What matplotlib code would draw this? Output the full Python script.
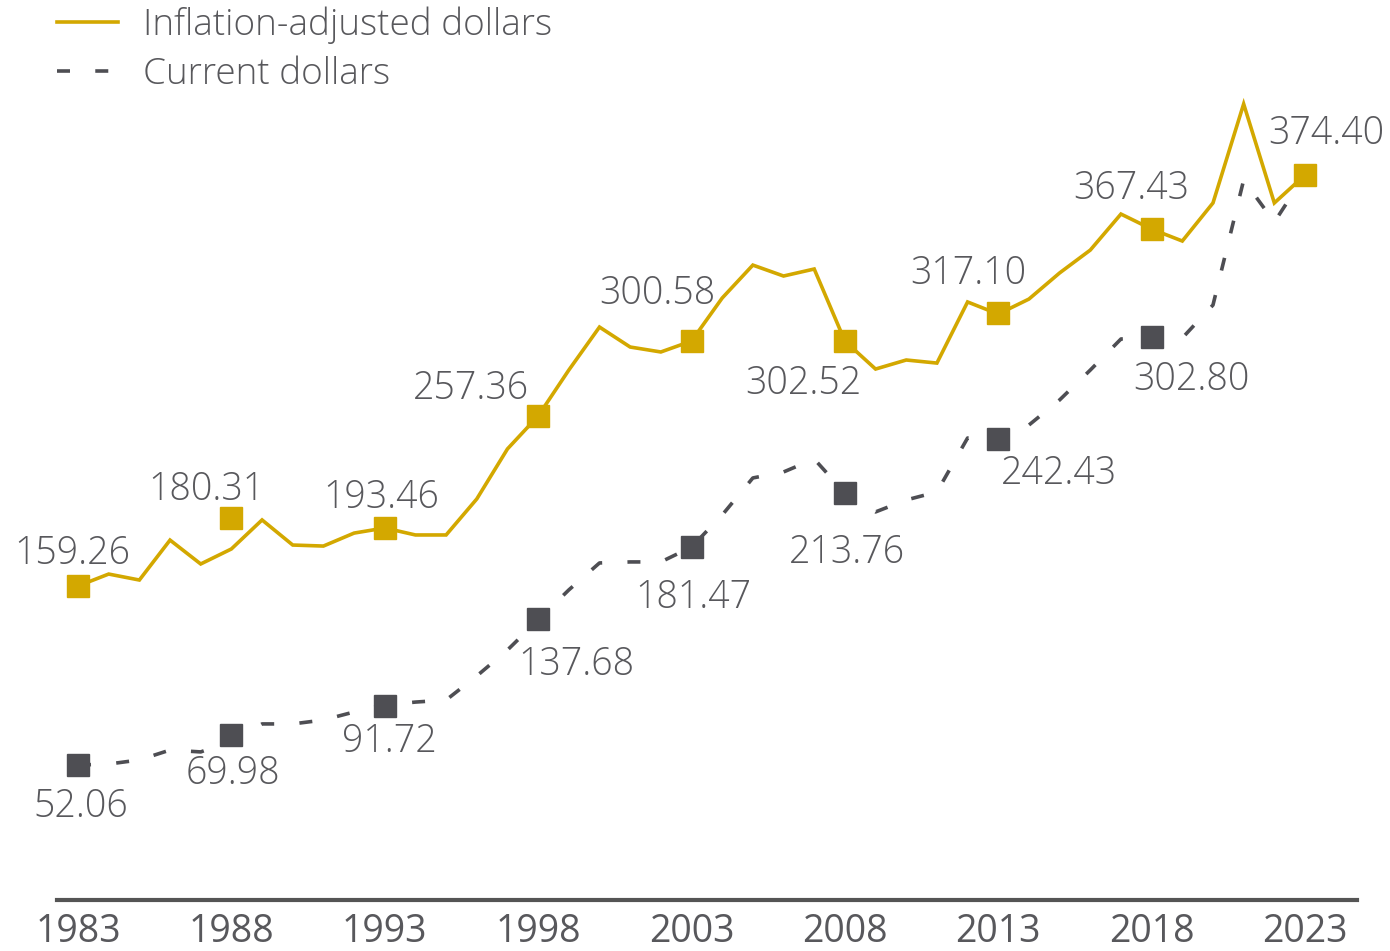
import matplotlib
matplotlib.use('Agg')
import matplotlib.pyplot as plt
from matplotlib.lines import Line2D

# yearly series
years = list(range(1983, 2024))
inflation_adjusted = [157.0, 164.0, 160.5, 183.9, 169.9, 178.7, 195.7, 181.0, 180.4, 188.0,
                      191.0, 186.9, 186.9, 208.0, 237.3, 256.6, 283.5, 308.7, 297.0, 294.1,
                      300.5, 325.7, 345.0, 338.6, 342.7, 300.5, 284.1, 289.4, 287.6, 323.4,
                      316.3, 325.1, 340.4, 353.8, 374.9, 366.1, 359.1, 381.4, 439.4, 381.4,
                      397.8]
current = [52.1, 52.7, 55.1, 60.9, 59.8, 66.2, 76.2, 76.2, 78.5, 83.2,
           87.3, 89.0, 90.2, 104.3, 119.5, 137.1, 154.7, 170.5, 171.1, 171.1,
           179.8, 198.6, 220.3, 223.8, 231.4, 211.5, 200.4, 207.4, 212.1, 243.7,
           243.1, 251.3, 266.0, 283.5, 301.7, 302.9, 302.3, 321.6, 394.8, 370.2,
           397.8]

# highlighted years (markers) and their labels
marker_years = [1983, 1988, 1993, 1998, 2003, 2008, 2013, 2018, 2023]
infl_markers = [157.0, 196.7, 190.9, 256.6, 300.5, 300.5, 316.9, 366.1, 397.8]
infl_labels = ['159.26', '180.31', '193.46', '257.36', '300.58', '302.52', '317.10', '367.43', '374.40']
cur_marker_years = [1983, 1988, 1993, 1998, 2003, 2008, 2013, 2018]
cur_markers = [52.1, 69.7, 86.7, 137.7, 179.8, 211.5, 243.1, 302.9]
cur_labels = ['52.06', '69.98', '91.72', '137.68', '181.47', '213.76', '242.43', '302.80']

# label offsets (pixels, label baseline relative to marker centre)
infl_off = [(-6, 22), (-25, 18), (-4, 20), (-67, 17), (-34, 37), (-42, -53), (-30, 29), (-20, 30), (21, 31)]
cur_off = [(3, -52), (2, -49), (5, -46), (38, -56), (2, -61), (2, -70), (61, -45), (40, -53)]

gold = '#D3A800'
grey = '#4E4E53'
txt = '#58585C'
font = ['Open Sans', 'DejaVu Sans']

fig = plt.figure(figsize=(13.9, 9.51), dpi=100)
ax = fig.add_axes([57 / 1390, 51 / 951, 1300 / 1390, 900 / 951])

ax.plot(years, inflation_adjusted, color=gold, lw=2.6, solid_joinstyle='miter', zorder=2)
ax.plot(years, current, color=grey, lw=2.6, dashes=(3.6, 7.0), zorder=2)
ax.plot(cur_marker_years, cur_markers, ls='none', marker='s', ms=16.5, color=grey, zorder=3)
ax.plot(marker_years, infl_markers, ls='none', marker='s', ms=16.5, color=gold, zorder=4)

for yr, v, lab, (dx, dy) in zip(marker_years, infl_markers, infl_labels, infl_off):
    ax.annotate(lab, (yr, v), xytext=(dx * 0.72, dy * 0.72), textcoords='offset points',
                ha='center', va='baseline', fontsize=27, color=txt, family=font, weight='light')
for yr, v, lab, (dx, dy) in zip(cur_marker_years, cur_markers, cur_labels, cur_off):
    ax.annotate(lab, (yr, v), xytext=(dx * 0.72, dy * 0.72), textcoords='offset points',
                ha='center', va='baseline', fontsize=27, color=txt, family=font, weight='light')

ax.set_xlim(1982.315, 2024.695)
ax.set_ylim(-26.95, 500.3)
ax.set_xticks(marker_years)
ax.set_xticklabels([str(y) for y in marker_years], family=font, fontsize=27, color=txt)
ax.tick_params(axis='x', length=0, pad=9)
ax.set_yticks([])
for s in ['top', 'right', 'left']:
    ax.spines[s].set_visible(False)
ax.spines['bottom'].set_color('#555555')
ax.spines['bottom'].set_linewidth(3)

handles = [Line2D([], [], color=gold, lw=2.6),
           Line2D([], [], color=grey, lw=2.6, dashes=(3.6, 7.0))]
ax.legend(handles, ['Inflation-adjusted dollars', 'Current dollars'], loc='upper left',
          bbox_to_anchor=(57 / 1390, 1 - 6 / 951), bbox_transform=fig.transFigure,
          frameon=False, borderpad=0, borderaxespad=0, handlelength=1.65,
          handletextpad=0.68, labelspacing=0.33,
          prop={'family': font, 'size': 26.6, 'weight': 'light'}, labelcolor=txt)

fig.savefig('out.png', dpi=100)
